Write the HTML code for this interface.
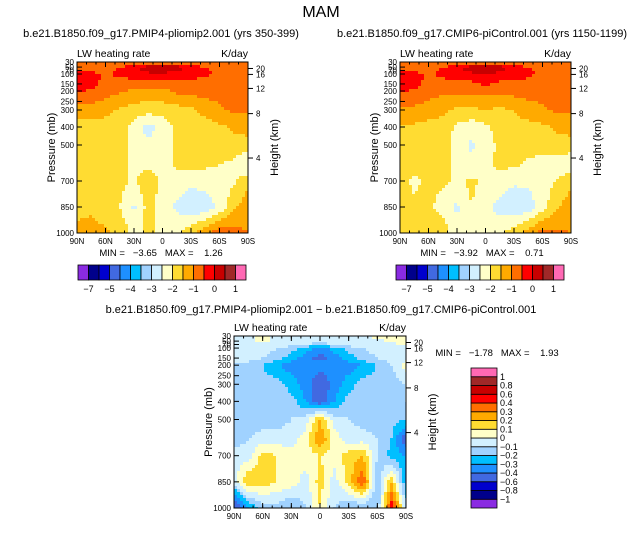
<!DOCTYPE html>
<html><head><meta charset="utf-8"><style>
body{margin:0;background:#fff;width:643px;height:528px;overflow:hidden}
svg{font-family:"Liberation Sans",sans-serif}
</style></head><body>
<svg id="svg" width="643" height="528" xmlns="http://www.w3.org/2000/svg">
<text x="321" y="17" font-size="16" text-anchor="middle">MAM</text>
</svg>
<script>
const lats=['90N','60N','30N','0','30S','60S','90S'];
const pLevels=[30,50,70,100,150,200,300,400,500,600,700,850,1000];
const pTicks=[30,50,70,100,150,200,250,300,400,500,700,850,1000];
const zTicks=[20,16,12,8,4];
const thrA=[-7,-6,-5,-4.5,-4,-3.5,-3,-2.5,-2,-1.5,-1,-0.5,0,0.5,1];
const labA=[-7,-5,-4,-3,-2,-1,0,1];
const thrD=[-1,-0.8,-0.6,-0.4,-0.3,-0.2,-0.1,0,0.1,0.2,0.3,0.4,0.6,0.8,1];
const palette=['#8a2be2','#00008b','#0000cd','#4169e1','#1e90ff','#00bfff','#a0d2ff','#d2f0ff','#ffffc8','#ffdc32','#ffaa00','#ff6e00','#ff0000','#c80000','#a02828','#ff69b4'];
const fieldA=[
[-0.8,-0.8,-0.8,-0.8,-0.8,-0.8,-0.8,-0.8,-0.8,-0.8,-0.8,-0.8,-0.8],
[-0.8,-0.8,-0.8,-0.6,-0.3,0.2,0.2,0.2,-0.3,-0.6,-0.8,-0.8,-0.8],
[-0.6,-0.6,-0.7,-0.4,-0.2,0.3,0.3,0.2,-0.2,-0.4,-0.7,-0.8,-0.8],
[-0.3,-0.3,-0.6,-0.3,-0.2,-0.2,-0.2,-0.2,-0.2,-0.3,-0.7,-0.8,-0.8],
[-0.3,-0.3,-0.7,-0.8,-0.8,-0.8,-0.8,-0.8,-0.8,-0.8,-0.8,-0.8,-0.8],
[-0.4,-0.6,-0.8,-0.9,-1.1,-1.2,-1.1,-0.9,-0.8,-0.8,-0.8,-0.8,-0.8],
[-1.2,-1.2,-1.3,-1.6,-1.7,-1.8,-1.8,-1.7,-1.6,-1.3,-1.1,-0.9,-0.9],
[-1.7,-1.7,-1.8,-1.8,-2.2,-2.7,-2.3,-1.9,-1.8,-1.8,-1.6,-1.4,-1.3],
[-1.7,-1.8,-1.8,-1.8,-2.2,-2.4,-2.3,-1.9,-1.8,-1.8,-1.8,-1.7,-1.7],
[-1.8,-1.8,-1.8,-1.8,-2.1,-2.2,-2.2,-1.9,-1.9,-1.9,-2.0,-2.1,-2.6],
[-1.8,-1.9,-1.8,-1.8,-2.1,-1.6,-2.1,-2.2,-2.3,-2.3,-2.2,-2.1,-1.6],
[-1.7,-1.6,-1.8,-2.0,-2.6,-1.8,-2.3,-2.6,-3.0,-2.8,-2.4,-1.6,-1.2],
[-1.3,-1.3,-1.4,-1.6,-2.2,-1.8,-2.2,-2.1,-1.6,-1.2,-0.6,-0.8,-1.0]];
const fieldB=[
[-0.8,-0.8,-0.8,-0.8,-0.8,-0.8,-0.8,-0.8,-0.8,-0.8,-0.8,-0.8,-0.8],
[-0.8,-0.8,-0.8,-0.6,-0.3,0.2,0.2,0.2,-0.3,-0.6,-0.8,-0.8,-0.8],
[-0.6,-0.6,-0.7,-0.4,-0.2,0.3,0.3,0.2,-0.2,-0.4,-0.7,-0.8,-0.8],
[-0.3,-0.3,-0.6,-0.3,-0.2,-0.2,-0.1,-0.2,-0.2,-0.3,-0.7,-0.8,-0.8],
[-0.3,-0.3,-0.7,-0.8,-0.6,-0.6,-0.4,-0.6,-0.7,-0.8,-0.8,-0.8,-0.8],
[-0.4,-0.6,-0.8,-0.9,-0.9,-0.9,-0.8,-0.8,-0.8,-0.8,-0.8,-0.8,-0.8],
[-1.1,-1.1,-1.2,-1.4,-1.6,-1.6,-1.5,-1.6,-1.5,-1.2,-1.1,-0.9,-0.9],
[-1.6,-1.6,-1.7,-1.7,-2.1,-2.3,-2.1,-1.8,-1.7,-1.7,-1.6,-1.4,-1.3],
[-1.7,-1.7,-1.8,-1.8,-2.2,-2.6,-2.2,-1.9,-1.8,-1.8,-1.8,-1.7,-1.7],
[-1.8,-1.8,-1.8,-1.9,-2.1,-2.4,-2.1,-1.9,-1.9,-2.1,-2.2,-2.3,-2.4],
[-1.8,-2.1,-1.9,-1.9,-2.1,-1.9,-2.1,-2.2,-2.4,-2.4,-2.2,-2.0,-1.6],
[-1.8,-1.9,-1.9,-2.2,-2.6,-2.0,-2.3,-2.7,-2.9,-2.8,-2.2,-1.6,-1.2],
[-1.5,-1.5,-1.6,-1.7,-2.3,-2.0,-2.3,-2.1,-1.7,-1.3,-0.8,-0.9,-1.0]];
const fieldD=[
[-0.05,-0.05,0.05,-0.05,-0.05,-0.05,-0.05,-0.05,-0.05,-0.05,0.05,0.05,0.05],
[-0.05,-0.05,0.05,-0.05,-0.05,-0.05,-0.05,-0.05,-0.05,-0.05,-0.05,0.05,0.05],
[-0.05,-0.05,-0.05,-0.05,-0.05,-0.1,-0.15,-0.1,-0.05,-0.05,-0.05,-0.05,0.05],
[-0.05,-0.05,-0.05,-0.1,-0.15,-0.25,-0.35,-0.25,-0.15,-0.1,-0.05,-0.05,-0.05],
[-0.05,-0.05,-0.1,-0.15,-0.25,-0.35,-0.45,-0.35,-0.25,-0.15,-0.1,-0.05,-0.05],
[-0.1,-0.15,-0.2,-0.3,-0.35,-0.35,-0.35,-0.35,-0.35,-0.3,-0.2,-0.1,0.05],
[-0.15,-0.15,-0.15,-0.15,-0.25,-0.35,-0.5,-0.35,-0.25,-0.15,-0.15,-0.15,-0.1],
[-0.15,-0.15,-0.15,-0.15,-0.15,-0.3,-0.5,-0.3,-0.15,-0.15,-0.15,-0.15,-0.1],
[-0.15,-0.15,-0.15,-0.15,-0.1,-0.05,0.2,-0.05,-0.1,-0.15,-0.15,-0.15,-0.2],
[-0.15,-0.1,-0.05,-0.05,-0.05,0.05,0.3,0.05,-0.05,-0.05,-0.1,-0.2,-0.5],
[-0.05,-0.05,0.15,0.1,0.05,0.05,0.1,0.05,0.15,0.2,-0.1,-0.25,-0.3],
[-0.05,0.2,0.15,0.1,0.05,-0.05,0.15,-0.05,0.15,0.4,-0.2,0.2,-0.3],
[-0.6,-0.3,-0.15,-0.15,-0.2,-0.1,0.1,-0.1,-0.2,-0.2,-0.2,0.5,-0.1]];

const NS='http://www.w3.org/2000/svg';
const svg=document.getElementById('svg');
function mk(tag,attrs,parent,txt){const e=document.createElementNS(NS,tag);for(const k in attrs)e.setAttribute(k,attrs[k]);if(txt!==undefined)e.textContent=txt;(parent||svg).appendChild(e);return e;}
const pRef=[[30,0],[100,12/171],[200,29/171],[300,48/171],[400,65/171],[500,83/171],[700,119/171],[850,145/171],[1000,1]];
function pFrac(p){for(let i=0;i<pRef.length-1;i++){const a=pRef[i],b=pRef[i+1];if(p<=b[0]){const t=(Math.log(p)-Math.log(a[0]))/(Math.log(b[0])-Math.log(a[0]));return a[1]+t*(b[1]-a[1]);}}return 1;}
function colorIdx(v,thr){let i=0;while(i<thr.length&&v>=thr[i])i++;return i;}
const rowFr=pLevels.map(pFrac);
function sample(field,u,f){
  let r=0;while(r<rowFr.length-2&&f>rowFr[r+1])r++;
  let t=(f-rowFr[r])/(rowFr[r+1]-rowFr[r]);t=Math.max(0,Math.min(1,t));
  let c=Math.min(11,Math.floor(u));let s=u-c;
  const a=field[r][c]*(1-s)+field[r][c+1]*s, b=field[r+1][c]*(1-s)+field[r+1][c+1]*s;
  return a*(1-t)+b*t;
}

function panel(name,x0,y0,w,h,field,thr,title,showMin){
  const g=mk('g',{}, svg);
  
  
  const Y=p=>y0+pFrac(p)*h;
  const fg=mk('g',{'shape-rendering':'crispEdges'},g);
  
  
  const st=3;
  for(let yy=0;yy<h;yy+=st){
    for(let xx=0;xx<w;xx+=st){
      const v=sample(field,(xx+st/2)/w*12,(yy+st/2)/h);
      const cell=mk('rect',{x:x0+xx,y:y0+yy,width:Math.min(st,w-xx),height:Math.min(st,h-yy),fill:palette[colorIdx(v,thr)]},fg);
      
      
    }
  }
  mk('rect',{x:x0,y:y0,width:w,height:h,fill:'none',stroke:'#000','stroke-width':1},g);
  lats.forEach((l,i)=>{const x=x0+i/6*w;
    mk('line',{x1:x,x2:x,y1:y0+h,y2:y0+h-5,stroke:'#000'},g);mk('line',{x1:x,x2:x,y1:y0,y2:y0+5,stroke:'#000'},g);
    const t=mk('text',{x:x,y:y0+h+11,'font-size':8,'text-anchor':'middle'},g,l);
    });
  for(let i=0;i<=18;i++){const x=x0+i/18*w;mk('line',{x1:x,x2:x,y1:y0+h,y2:y0+h-2.5,stroke:'#000'},g);mk('line',{x1:x,x2:x,y1:y0,y2:y0+2.5,stroke:'#000'},g);}
  pTicks.forEach(p=>{const y=Y(p);mk('line',{x1:x0,x2:x0+5,y1:y,y2:y,stroke:'#000'},g);
    const t=mk('text',{x:x0-3,y:y+3,'font-size':8,'text-anchor':'end'},g,p);
    });
  zTicks.forEach(z=>{const y=Y(1000*Math.exp(-z/7));mk('line',{x1:x0+w,x2:x0+w+5,y1:y,y2:y,stroke:'#000'},g);
    const t=mk('text',{x:x0+w+8,y:y+3,'font-size':8},g,z);
    });
  const yl=mk('text',{x:0,y:0,'font-size':11,'text-anchor':'middle',transform:`translate(${x0-22},${y0+h/2}) rotate(-90)`},g,'Pressure (mb)');
  
  const yr=mk('text',{x:0,y:0,'font-size':11,'text-anchor':'middle',transform:`translate(${x0+w+30},${y0+h/2}) rotate(-90)`},g,'Height (km)');
  
  const l1=mk('text',{x:x0,y:y0-5,'font-size':10.5},g,'LW heating rate');
  
  const l2=mk('text',{x:x0+w,y:y0-5,'font-size':10.5,'text-anchor':'end'},g,'K/day');
  
  const tt=mk('text',{x:title[1],y:title[2],'font-size':11,'text-anchor':'middle'},g,title[0]);
  
  if(showMin){const m=mk('text',{x:showMin[0],y:showMin[1],'font-size':9.5,'text-anchor':'middle'},g,showMin[2]);
    }
}
const S='\u00a0';
panel('top-left-panel',77,62,171,171,fieldA,thrA,['b.e21.B1850.f09_g17.PMIP4-pliomip2.001 (yrs 350-399)',161,37],[161,256,'MIN ='+S+S+S+'\u22123.65'+S+S+S+'MAX ='+S+S+S+S+'1.26']);
panel('top-right-panel',400,62,171,171,fieldB,thrA,['b.e21.B1850.f09_g17.CMIP6-piControl.001 (yrs 1150-1199)',482,37],[482,256,'MIN ='+S+S+S+'\u22123.92'+S+S+S+'MAX ='+S+S+S+S+'0.71']);
panel('bottom-diff-panel',234,336,172,172,fieldD,thrD,['b.e21.B1850.f09_g17.PMIP4-pliomip2.001 \u2212 b.e21.B1850.f09_g17.CMIP6-piControl.001',321,313],[497,356,'MIN ='+S+S+S+'\u22121.78'+S+S+S+'MAX ='+S+S+S+S+'1.93']);

function hbar(name,x0,y0,w,hh){
  const g=mk('g',{},svg);
  const bw=w/palette.length;
  palette.forEach((c,i)=>{const r=mk('rect',{x:x0+i*bw,y:y0,width:bw,height:hh,fill:c,stroke:'#000','stroke-width':0.8},g);
    });
  labA.forEach(v=>{const i=thrA.indexOf(v);const t=mk('text',{x:x0+(i+1)*bw,y:y0+hh+12,'font-size':9,'text-anchor':'middle'},g,v<0?'\u2212'+(-v):v);
    });
}
hbar('colorbar-left',78,265,168,15);
hbar('colorbar-right',396,265,168,15);
(function(){
  const g=mk('g',{},svg);
  const x0=471,y0=368,w=26,H=140,bh=H/palette.length;
  palette.forEach((c,i)=>{const r=mk('rect',{x:x0,y:y0+H-(i+1)*bh,width:w,height:bh,fill:c,stroke:'#000','stroke-width':0.8},g);
    });
  thrD.forEach((v,i)=>{const t=mk('text',{x:x0+w+3,y:y0+H-(i+1)*bh+3,'font-size':9},g,v<0?'\u2212'+(-v):v);
    });
})();
</script>
</body></html>
